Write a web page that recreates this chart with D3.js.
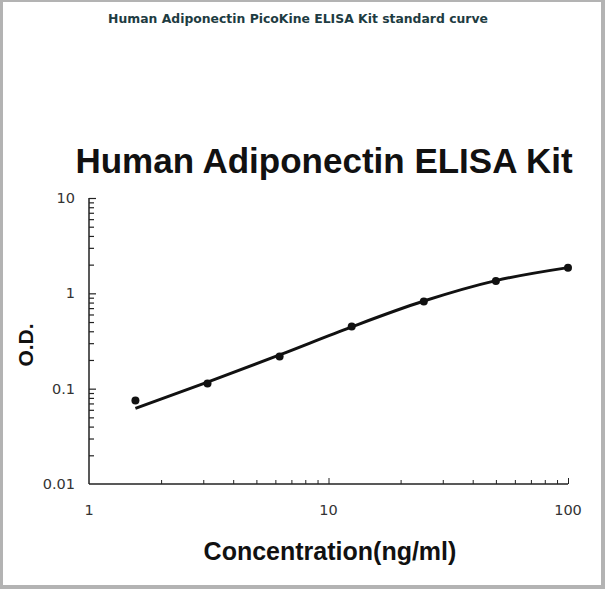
<!DOCTYPE html>
<html>
<head>
<meta charset="utf-8">
<script src="https://cdn.jsdelivr.net/npm/d3@7"></script>
<style>
  html, body { margin: 0; padding: 0; background: #b3b3b3; }
  svg { display: block; }
</style>
</head>
<body>
<svg id="chart" width="605" height="589"></svg>
<script>
// ---- data ----
const concentrations = [1.5625, 3.125, 6.25, 12.5, 25, 50, 100];
const odValues = [0.075, 0.113, 0.217, 0.45, 0.82, 1.35, 1.86];
const fitValues = [0.062, 0.117, 0.226, 0.445, 0.83, 1.36, 1.86];
const xTickLabels = [1, 10, 100];
const yTickLabels = [0.01, 0.1, 1, 10];
const pageTitle = "Human Adiponectin PicoKine ELISA Kit standard curve";
const chartTitle = "Human Adiponectin ELISA Kit";
const xLabel = "Concentration(ng/ml)";
const yLabel = "O.D.";

const svg = d3.select("#chart");
// white page with grey frame
svg.append("rect").attr("x", 3).attr("y", 2).attr("width", 598).attr("height", 583).attr("fill", "#fff");

svg.append("text")
  .attr("x", 298).attr("y", 23)
  .attr("text-anchor", "middle")
  .attr("font-family", "DejaVu Sans, Verdana, sans-serif")
  .attr("font-weight", "bold").attr("font-size", 12.4)
  .attr("fill", "#1e3c42")
  .text(pageTitle);

svg.append("text")
  .attr("x", 324).attr("y", 173)
  .attr("text-anchor", "middle")
  .attr("font-family", "Liberation Sans, Arial, sans-serif")
  .attr("font-weight", "bold").attr("font-size", 35)
  .attr("fill", "#111")
  .text(chartTitle);

const x = d3.scaleLog().domain([1, 100]).range([89, 568]);
const y = d3.scaleLog().domain([0.01, 10]).range([484, 198]);

// minor tick values
const xMinor = [];
[1, 10].forEach(d => { for (let k = 2; k <= 9; k++) xMinor.push(d * k); });
const yMinor = [];
[0.01, 0.1, 1].forEach(d => { for (let k = 2; k <= 9; k++) yMinor.push(d * k); });

const axisColor = "#222";
// X axis
const gx = svg.append("g").attr("transform", `translate(0,${y(0.01)})`);
gx.call(d3.axisTop(x).tickValues(xMinor).tickSize(4).tickFormat(""))
  .call(g => g.select(".domain").remove());
gx.append("g").call(d3.axisTop(x).tickValues([10, 100]).tickSize(6).tickFormat(""))
  .call(g => g.select(".domain").remove());
gx.append("line").attr("x1", x(1)).attr("x2", x(100)).attr("y1", 0).attr("y2", 0)
  .attr("stroke", axisColor).attr("stroke-width", 1.5);
gx.selectAll(".tick line").attr("stroke", axisColor).attr("stroke-width", 1);

svg.append("g").selectAll("text").data(xTickLabels).join("text")
  .attr("x", d => x(d)).attr("y", 515)
  .attr("text-anchor", "middle")
  .attr("font-family", "DejaVu Sans, Verdana, sans-serif")
  .attr("font-size", 14.5).attr("fill", "#333")
  .text(d => d);

// Y axis
const gy = svg.append("g").attr("transform", `translate(${x(1)},0)`);
gy.call(d3.axisRight(y).tickValues(yMinor).tickSize(5).tickFormat(""))
  .call(g => g.select(".domain").remove());
gy.append("g").call(d3.axisRight(y).tickValues([0.1, 1, 10]).tickSize(7).tickFormat(""))
  .call(g => g.select(".domain").remove());
gy.append("line").attr("x1", 0).attr("x2", 0).attr("y1", y(10)).attr("y2", y(0.01))
  .attr("stroke", axisColor).attr("stroke-width", 1.5);
gy.selectAll(".tick line").attr("stroke", axisColor).attr("stroke-width", 1.2);

svg.append("g").selectAll("text").data(yTickLabels).join("text")
  .attr("x", 75).attr("y", d => y(d) + 5)
  .attr("text-anchor", "end")
  .attr("font-family", "DejaVu Sans, Verdana, sans-serif")
  .attr("font-size", 14.5).attr("fill", "#333")
  .text(d => d);

// axis titles
svg.append("text")
  .attr("x", 330).attr("y", 560)
  .attr("text-anchor", "middle")
  .attr("font-family", "Liberation Sans, Arial, sans-serif")
  .attr("font-weight", "bold").attr("font-size", 25)
  .attr("fill", "#111")
  .text(xLabel);

svg.append("text")
  .attr("transform", "translate(33,345) rotate(-90)")
  .attr("text-anchor", "middle")
  .attr("font-family", "Liberation Sans, Arial, sans-serif")
  .attr("font-weight", "bold").attr("font-size", 21)
  .attr("fill", "#111")
  .text(yLabel);

// fitted curve
const fit = concentrations.map((c, i) => [c, fitValues[i]]);
svg.append("path")
  .datum(fit)
  .attr("fill", "none").attr("stroke", "#111").attr("stroke-width", 3)
  .attr("d", d3.line().x(d => x(d[0])).y(d => y(d[1])).curve(d3.curveMonotoneX));

// data points
svg.append("g").selectAll("circle")
  .data(concentrations.map((c, i) => [c, odValues[i]]))
  .join("circle")
  .attr("cx", d => x(d[0])).attr("cy", d => y(d[1]))
  .attr("r", 4).attr("fill", "#111");
</script>
</body>
</html>
